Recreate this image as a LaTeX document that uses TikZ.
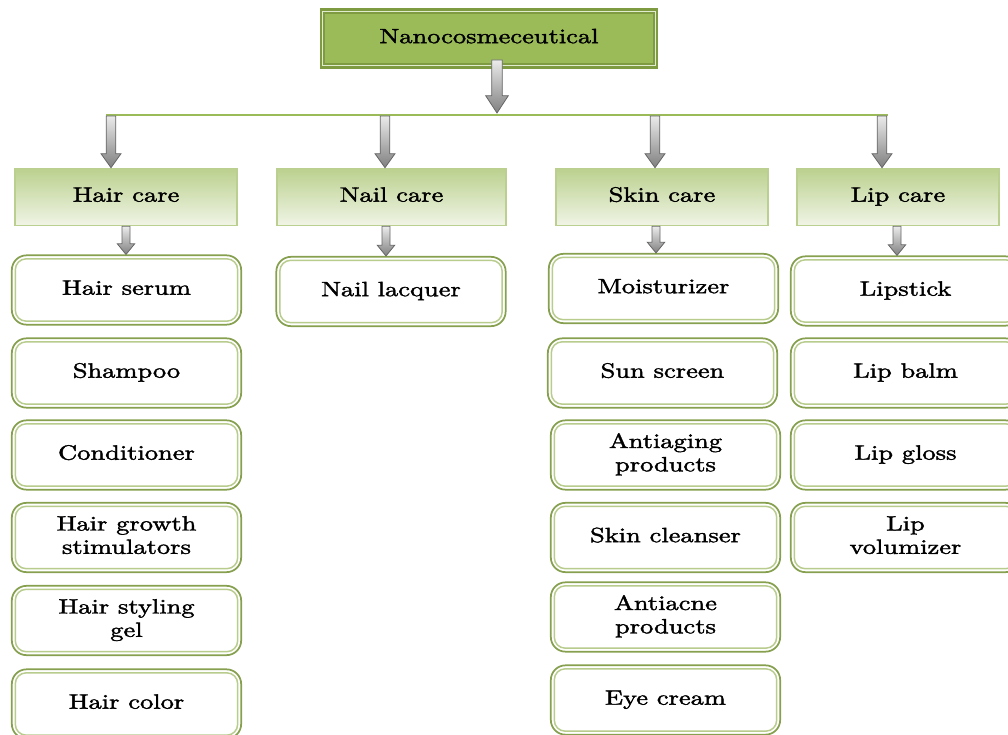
\documentclass[tikz,border=0pt]{standalone}
\usepackage{fontspec}
\setmainfont{lmroman10-regular.otf}[FakeBold=1.6]
\usetikzlibrary{calc}
\definecolor{gtop}{HTML}{9BBB59}
\definecolor{gdark}{HTML}{77933C}
\definecolor{glight}{HTML}{C3D69B}
\definecolor{gpale}{HTML}{EBF1DE}
\newcommand\stx[1]{\scalebox{1.28}[1]{\begin{tabular}{@{}c@{}}#1\end{tabular}}}
\newcommand\barrow[6]{%
  \path[blockarr] let \p1=(#1), \p2=(#2), \p3=(#3) in
    (\x1-#4,\y2) -- (\x1-#4,\y3+#6) -- (\x1-#5,\y3+#6) -- (\x1,\y3) --
    (\x1+#5,\y3+#6) -- (\x1+#4,\y3+#6) -- (\x1+#4,\y2) -- cycle;}
\tikzset{
  txt/.style={font=\fontsize{15.5}{17.5}\selectfont, text=black, inner sep=0pt},
  topbox/.style={txt, draw=gdark!80!gtop, line width=1.6pt, double=white!70!gtop,
    double distance=0.9pt, fill=gtop, minimum width=250pt, minimum height=41pt},
  catbox/.style={txt, draw=glight!90!gdark, line width=1pt, top color=glight!80!gtop,
    bottom color=gpale!75!white, minimum height=43pt},
  itembox/.style={txt, draw=gdark!80!glight, line width=1.3pt, fill=white,
    rounded corners=11pt, minimum width=172pt, minimum height=52pt},
  innerline/.style={draw=glight!85!gdark, line width=1.1pt, rounded corners=8pt},
  blockarr/.style={draw=black!60, line width=0.6pt, top color=white!92!black,
    bottom color=black!50},
  hline/.style={draw=gtop, line width=1.5pt}
}
\begin{document}
\begin{tikzpicture}[x=0.75pt,y=-0.75pt]
\useasboundingbox (0,0) rectangle (1008,735);
\clip (0,0) rectangle (1008,735);
% top
\node[topbox] (top) at (489,38.5) {\stx{Nanocosmeceutical}};
\coordinate (hl1) at (106,115);
\coordinate (hl2) at (888,115);
\draw[hline] (hl1) -- (hl2);
\coordinate (ta) at (497,60);
\coordinate (tb) at (497,113);
\barrow{ta}{ta}{tb}{4pt}{8.5pt}{13pt}
% categories
\node[catbox, minimum width=166.5pt] (hair) at (126,197) {\stx{Hair care}};
\node[catbox, minimum width=171.75pt] (nail) at (391.5,197) {\stx{Nail care}};
\node[catbox, minimum width=159pt] (skin) at (662,197) {\stx{Skin care}};
\node[catbox, minimum width=151.5pt] (lip) at (898,197) {\stx{Lip care}};
\coordinate (c1) at (111,116);
\coordinate (c2) at (385,116);
\coordinate (c3) at (655,116);
\coordinate (c4) at (882,116);
\barrow{c1}{c1}{c1 |- hair.north}{3.6pt}{7.5pt}{10.5pt}
\barrow{c2}{c2}{c2 |- nail.north}{3.6pt}{7.5pt}{10.5pt}
\barrow{c3}{c3}{c3 |- skin.north}{3.6pt}{7.5pt}{10.5pt}
\barrow{c4}{c4}{c4 |- lip.north}{3.6pt}{7.5pt}{10.5pt}
% hair items
\node[itembox] (hs) at (126.5,290) {\stx{Hair serum}};
\node[itembox] (sh) at (126.5,373) {\stx{Shampoo}};
\node[itembox] (co) at (126.5,455) {\stx{Conditioner}};
\node[itembox] (hg) at (126.5,537.5) {\stx{Hair growth\\stimulators}};
\node[itembox] (hy) at (126.5,620.5) {\stx{Hair styling\\gel}};
\node[itembox] (hc) at (126.5,704) {\stx{Hair color}};
% nail
\node[itembox] (nl) at (391,291.5) {\stx{Nail lacquer}};
% skin
\node[itembox] (mo) at (663.5,288.5) {\stx{Moisturizer}};
\node[itembox] (ss) at (662.5,373) {\stx{Sun screen}};
\node[itembox] (an) at (665.5,455) {\stx{Antiaging\\products}};
\node[itembox] (sc) at (665.5,537.5) {\stx{Skin cleanser}};
\node[itembox] (ac) at (665.5,617) {\stx{Antiacne\\products}};
\node[itembox] (ey) at (665.5,700) {\stx{Eye cream}};
% lip
\node[itembox] (ls) at (905.5,291) {\stx{Lipstick}};
\node[itembox] (lb) at (905.5,373) {\stx{Lip balm}};
\node[itembox] (lg) at (905.5,455) {\stx{Lip gloss}};
\node[itembox] (lv) at (905.5,537.5) {\stx{Lip\\volumizer}};
\foreach \n in {hs,sh,co,hg,hy,hc,nl,mo,ss,an,sc,ac,ey,ls,lb,lg,lv}
  \draw[innerline] ($(\n.south west)+(3.3pt,3.3pt)$) rectangle ($(\n.north east)+(-3.3pt,-3.3pt)$);
% category to item arrows
\coordinate (d1) at (126,226);
\coordinate (d2) at (386,226);
\coordinate (d3) at (656,226);
\coordinate (d4) at (897,226);
\barrow{d1}{hair.south}{hs.north}{3pt}{6.5pt}{8pt}
\barrow{d2}{nail.south}{nl.north}{3pt}{6.5pt}{8pt}
\barrow{d3}{skin.south}{mo.north}{3pt}{6.5pt}{8pt}
\barrow{d4}{lip.south}{ls.north}{3pt}{6.5pt}{8pt}
\end{tikzpicture}
\end{document}
